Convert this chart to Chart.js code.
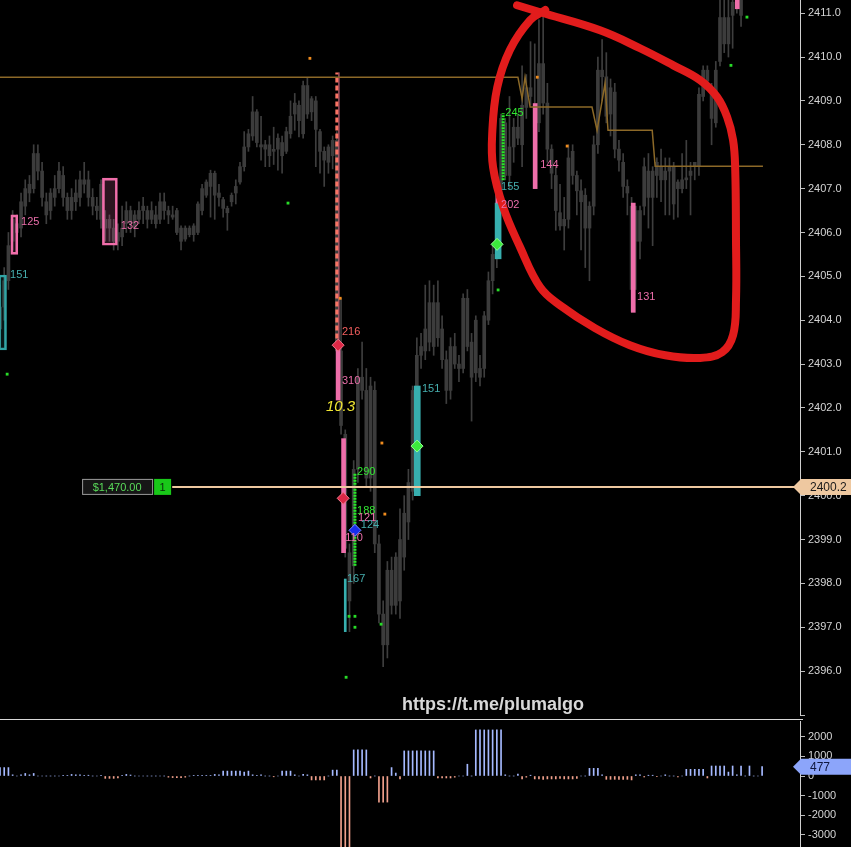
<!DOCTYPE html>
<html>
<head>
<meta charset="utf-8">
<title>Chart</title>
<script src="https://cdn.jsdelivr.net/npm/chart.js@4.4.1/dist/chart.umd.min.js"></script>
<style>
    html, body { margin: 0; padding: 0; background: #000; }
    #wrap { position: relative; width: 851px; height: 847px; overflow: hidden; background: #000; }
    #priceChart { position: absolute; left: 0; top: 0; }
    #sep { position: absolute; left: 0; top: 719px; width: 803px; height: 1px; background: #d8d8d8; }
    #deltaChart { position: absolute; left: 0; top: 721px; }
</style>
</head>
<body>
<div id="wrap">
    <canvas id="priceChart" width="851" height="720"></canvas>
    <div id="sep"></div>
    <canvas id="deltaChart" width="851" height="126"></canvas>
</div>
<script>
// candles (one per bar index)
const candleOpen = [
    2403.8, 2404.3, 2404.9, 2405.8, 2406.2, 2406.1, 2406.6, 2406.9, 2407.0, 2407.8,
    2407.4, 2406.7, 2406.5, 2406.8, 2407.0, 2407.3, 2406.8, 2406.5, 2406.7, 2406.8,
    2407.2, 2407.2, 2406.8, 2406.6, 2407.1, 2406.3, 2406.1, 2406.1, 2405.8, 2405.9,
    2406.2, 2406.5, 2406.1, 2406.3, 2406.5, 2406.5, 2406.3, 2406.4, 2406.3, 2406.7,
    2406.5, 2406.4, 2406.5, 2406.1, 2405.85, 2406.1, 2405.95, 2406.0, 2406.5, 2406.85,
    2407.05, 2407.35, 2406.9, 2406.75, 2406.55, 2406.7, 2406.9, 2407.15, 2407.5, 2407.95,
    2408.2, 2408.75, 2408.0, 2408.0, 2407.75, 2407.87, 2407.9, 2408.05, 2407.85, 2408.25,
    2408.7, 2408.9, 2408.25, 2409.35, 2408.75, 2409.0, 2408.3, 2407.85, 2407.6, 2407.75,
    2408.1, 2403.3, 2401.4, 2398.7, 2398.4, 2400.6, 2402.7, 2402.4, 2400.4, 2402.4,
    2398.9, 2397.3, 2396.6, 2398.3, 2397.5, 2397.6, 2398.6, 2399.4, 2400.1, 2402.4,
    2403.2, 2403.3, 2403.5, 2404.4, 2403.6, 2403.8, 2403.1, 2402.4, 2403.4, 2403.0,
    2402.9, 2404.5, 2403.5, 2402.8, 2402.9, 2402.9, 2404.0, 2404.9, 2405.4, 2407.0,
    2408.5, 2407.3, 2407.95, 2408.4, 2408.0, 2408.85, 2409.3, 2408.9, 2408.5, 2409.85,
    2408.95, 2407.9, 2407.3, 2406.45, 2406.15, 2406.3, 2407.85, 2407.3, 2406.95, 2406.85,
    2406.1, 2406.6, 2408.0, 2409.7, 2409.55, 2408.7, 2409.2, 2407.9, 2407.6, 2407.05,
    2406.6, 2405.8, 2406.5, 2406.6, 2407.4, 2406.8, 2407.3, 2407.5, 2407.2, 2407.5,
    2407.5, 2407.15, 2407.0, 2407.2, 2407.3, 2407.5, 2407.5, 2409.1, 2409.7, 2409.3,
    2408.5, 2409.9, 2410.9, 2410.3, 2410.95, 2411.2, 2411.3
];
const candleHigh = [
    2404.8, 2405.2, 2406.0, 2406.5, 2406.4, 2406.9, 2407.2, 2407.3, 2408.0, 2408.0,
    2407.6, 2406.9, 2407.0, 2407.3, 2407.6, 2407.5, 2406.9, 2407.0, 2407.2, 2407.4,
    2407.6, 2407.4, 2407.0, 2406.8, 2407.2, 2406.5, 2406.4, 2406.3, 2406.2, 2406.6,
    2406.7, 2406.6, 2406.5, 2406.7, 2406.8, 2406.6, 2406.7, 2406.6, 2406.9, 2406.9,
    2406.6, 2406.6, 2406.55, 2406.15, 2406.15, 2406.15, 2406.2, 2406.7, 2407.1, 2407.2,
    2407.42, 2407.4, 2407.1, 2406.8, 2406.6, 2406.9, 2407.2, 2407.6, 2408.3, 2408.35,
    2409.1, 2408.8, 2408.65, 2408.1, 2408.2, 2408.4, 2408.25, 2408.2, 2408.4, 2409.0,
    2409.17, 2409.0, 2409.45, 2409.52, 2409.1, 2409.1, 2408.35, 2407.95, 2408.0, 2408.2,
    2408.3, 2404.5, 2401.5, 2398.9, 2400.8, 2402.9, 2403.5, 2402.9, 2402.7, 2402.6,
    2399.1, 2397.6, 2398.5, 2398.6, 2398.7, 2399.7, 2400.0, 2400.6, 2402.5, 2403.6,
    2403.7, 2404.8, 2404.9, 2404.8, 2404.9, 2404.1, 2403.3, 2403.6, 2403.7, 2403.2,
    2404.6, 2404.7, 2403.7, 2404.1, 2403.2, 2404.2, 2405.1, 2405.7, 2407.1, 2408.7,
    2408.6, 2409.1, 2408.6, 2408.7, 2409.8, 2409.6, 2410.35, 2410.3, 2410.85, 2411.0,
    2409.4, 2408.0, 2407.5, 2407.1, 2406.8, 2408.0, 2408.0, 2407.4, 2407.2, 2407.0,
    2406.7, 2408.2, 2410.0, 2410.4, 2410.1, 2409.5, 2409.4, 2408.1, 2407.8, 2407.2,
    2406.8, 2406.6, 2406.6, 2407.7, 2407.8, 2407.5, 2407.7, 2407.9, 2407.7, 2407.7,
    2407.6, 2407.2, 2407.8, 2408.1, 2407.6, 2407.6, 2409.3, 2409.8, 2409.8, 2409.4,
    2409.9, 2411.3, 2411.3, 2411.3, 2411.3, 2411.4, 2411.4
];
const candleLow = [
    2403.4, 2404.0, 2404.7, 2405.6, 2405.7, 2405.9, 2406.4, 2406.7, 2406.9, 2407.2,
    2406.6, 2406.2, 2406.3, 2406.6, 2406.9, 2406.6, 2406.3, 2406.3, 2406.5, 2406.6,
    2406.9, 2406.6, 2406.4, 2406.3, 2406.1, 2405.8, 2405.8, 2405.6, 2405.6, 2405.7,
    2406.0, 2406.0, 2405.9, 2406.2, 2406.2, 2406.1, 2406.2, 2406.1, 2406.2, 2406.3,
    2406.2, 2406.3, 2405.95, 2405.6, 2405.8, 2405.9, 2405.8, 2405.95, 2406.4, 2406.8,
    2406.35, 2406.3, 2406.6, 2406.35, 2406.05, 2406.6, 2406.65, 2407.1, 2407.4, 2407.85,
    2408.1, 2407.95, 2407.65, 2407.5, 2407.5, 2407.55, 2407.42, 2407.35, 2407.8, 2408.15,
    2408.33, 2408.18, 2408.15, 2408.6, 2408.55, 2407.5, 2407.35, 2407.05, 2407.35, 2407.45,
    2403.1, 2401.4, 2398.6, 2396.9, 2398.0, 2400.3, 2402.2, 2400.2, 2400.1, 2398.7,
    2397.1, 2396.1, 2396.3, 2397.3, 2397.3, 2397.2, 2398.3, 2399.0, 2399.9, 2402.2,
    2402.9, 2403.1, 2403.3, 2403.2, 2403.4, 2402.9, 2402.1, 2402.2, 2402.9, 2402.6,
    2402.8, 2403.3, 2401.7, 2402.6, 2402.5, 2402.7, 2403.9, 2404.6, 2405.2, 2406.8,
    2407.2, 2407.0, 2407.6, 2408.0, 2407.5, 2408.6, 2408.9, 2407.0, 2408.3, 2408.7,
    2407.6, 2407.0, 2406.05, 2406.05, 2405.6, 2406.1, 2407.1, 2406.4, 2405.6, 2405.2,
    2404.9, 2406.4, 2407.8, 2409.0, 2408.5, 2408.2, 2407.7, 2407.4, 2406.8, 2406.4,
    2404.2, 2404.7, 2405.4, 2406.4, 2406.1, 2405.7, 2406.8, 2406.7, 2406.4, 2406.4,
    2406.3, 2406.35, 2406.9, 2407.0, 2406.4, 2407.2, 2407.3, 2409.0, 2409.3, 2408.0,
    2408.4, 2409.8, 2410.1, 2410.0, 2410.2, 2411.0, 2410.7
];
const candleClose = [
    2404.3, 2404.9, 2405.7, 2406.3, 2406.0, 2406.7, 2407.0, 2407.1, 2407.8, 2407.4,
    2406.8, 2406.4, 2406.9, 2407.0, 2407.4, 2406.8, 2406.5, 2406.8, 2406.9, 2407.2,
    2407.1, 2406.8, 2406.6, 2406.5, 2406.3, 2406.1, 2406.3, 2405.8, 2406.0, 2406.1,
    2406.5, 2406.2, 2406.4, 2406.5, 2406.6, 2406.3, 2406.5, 2406.2, 2406.7, 2406.5,
    2406.4, 2406.35, 2406.0, 2405.8, 2406.1, 2405.95, 2406.15, 2406.65, 2407.0, 2407.15,
    2407.35, 2406.85, 2406.8, 2406.55, 2406.45, 2406.85, 2407.05, 2407.5, 2407.95, 2408.25,
    2408.75, 2408.05, 2407.95, 2407.9, 2408.0, 2407.85, 2408.15, 2407.75, 2408.3, 2408.65,
    2408.95, 2408.55, 2409.35, 2408.7, 2409.05, 2408.35, 2407.85, 2407.65, 2407.95, 2408.1,
    2403.3, 2401.6, 2398.8, 2397.6, 2400.6, 2402.7, 2402.4, 2400.4, 2402.5, 2398.9,
    2397.3, 2396.6, 2398.3, 2397.5, 2398.6, 2399.0, 2399.6, 2400.3, 2402.4, 2403.2,
    2403.4, 2403.8, 2404.4, 2403.4, 2404.4, 2403.1, 2402.4, 2403.4, 2403.0, 2402.9,
    2404.5, 2403.4, 2402.7, 2404.0, 2402.7, 2404.1, 2404.9, 2405.5, 2407.0, 2408.6,
    2407.3, 2407.95, 2408.4, 2408.15, 2408.9, 2409.3, 2409.1, 2408.4, 2409.85, 2408.95,
    2407.9, 2407.35, 2406.5, 2406.15, 2406.3, 2407.7, 2407.3, 2406.95, 2406.7, 2406.1,
    2406.6, 2408.0, 2409.7, 2409.55, 2408.65, 2409.3, 2407.9, 2407.65, 2407.05, 2406.9,
    2404.7, 2406.5, 2405.8, 2407.5, 2406.8, 2407.4, 2407.6, 2407.2, 2407.4, 2407.4,
    2406.65, 2407.0, 2407.2, 2407.2, 2407.4, 2407.6, 2409.15, 2409.7, 2409.45, 2408.6,
    2409.7, 2410.9, 2410.3, 2410.9, 2411.25, 2411.3, 2410.95
];

// delta histogram (lower pane)
const deltaValues = [
    430, 430, 430, 60, 0, 60, 130, 60, 130, 0,
    0, 0, 0, 0, 0, 40, 30, 80, 60, 60,
    30, 40, 0, 0, 20, -120, -120, -120, -100, 40,
    80, 50, 0, 0, 0, 0, 0, 0, 0, 0,
    -60, -80, -80, -80, -60, 0, 30, 30, 30, 30,
    30, 80, 60, 250, 250, 250, 250, 250, 200, 250,
    60, 40, 60, 0, 0, -40, 0, 250, 250, 250,
    60, 0, 80, 60, -200, -200, -200, -200, 0, 300,
    300, -3700, -3700, -3700, 1330, 1330, 1330, 1330, -100, 0,
    -1330, -1330, -1330, 430, 150, -150, 1280, 1280, 1280, 1280,
    1280, 1280, 1280, 1280, -100, -100, -100, -100, -60, 0,
    0, 600, 0, 2350, 2350, 2350, 2350, 2350, 2350, 2350,
    60, 0, 0, 100, -150, -60, 40, -150, -150, -170,
    -150, -150, -150, -120, -150, -150, -150, -120, 0, 0,
    390, 390, 390, 60, -170, -170, -170, -170, -170, -170,
    -200, 60, 60, -50, 40, 40, -40, 0, 60, 0,
    0, -50, 0, 340, 340, 340, 340, 340, -100, 510,
    510, 510, 510, 200, 510, 60, 510, 0, 510, 0,
    0, 477
];

// axis ticks
const priceTicks = [2395, 2396, 2397, 2398, 2399, 2400, 2401, 2402, 2403, 2404, 2405, 2406, 2407, 2408, 2409, 2410, 2411];
const deltaTicks = [-3000, -2000, -1000, 0, 1000, 2000];

// signal boxes and bars: bar index, low, high
const tealBox = [{x: 0.6, lo: 2403.32, hi: 2405.03}];
const pinkBox = [{x: 3.4, lo: 2405.5, hi: 2406.4}];
const pinkBoxWide = [{x: 26.1, lo: 2405.71, hi: 2407.24}];
const pinkSignals = [
    {x: 80.3, lo: 2402.18, hi: 2403.4}, {x: 81.6, lo: 2398.7, hi: 2401.3},
    {x: 118.3, lo: 2406.67, hi: 2407.05}, {x: 127.1, lo: 2407.0, hi: 2408.94},
    {x: 150.4, lo: 2404.18, hi: 2406.67}, {x: 175.1, lo: 2411.1, hi: 2411.4}
];
const tealSignals = [{x: 99.1, lo: 2400.0, hi: 2402.5}, {x: 118.3, lo: 2405.4, hi: 2406.67}];
const tealThin = [{x: 82.0, lo: 2396.9, hi: 2398.1}];
const greenSignals = [{x: 84.3, lo: 2398.4, hi: 2400.5}, {x: 119.5, lo: 2407.19, hi: 2408.72}];
const dashedSignal = [{x: 80.0, lo: 2403.4, hi: 2409.65}];
const dashedCompanion = [{x: 80.5, lo: 2403.4, hi: 2409.65}];

const redDiamonds = [{x: 80.3, y: 2403.43}, {x: 81.5, y: 2399.94}];
const blueDiamonds = [{x: 84.3, y: 2399.21}];
const greenDiamonds = [{x: 99.05, y: 2401.13}, {x: 118.05, y: 2405.73}];
const orangeMarks = [
    {x: 73.6, y: 2409.97}, {x: 80.8, y: 2404.5}, {x: 90.7, y: 2401.2},
    {x: 91.4, y: 2399.58}, {x: 127.6, y: 2409.54}, {x: 134.7, y: 2407.97}
];
const greenMarks = [
    {x: 68.4, y: 2406.67}, {x: 1.7, y: 2402.77}, {x: 82.2, y: 2395.86}, {x: 82.9, y: 2397.25},
    {x: 84.3, y: 2397.25}, {x: 84.3, y: 2397.0}, {x: 90.5, y: 2397.07}, {x: 118.3, y: 2404.69},
    {x: 119.5, y: 2406.46}, {x: 173.6, y: 2409.81}, {x: 177.4, y: 2410.91}
];

const textLabels = [
    {x: 5.0, y: 2406.24, text: '125', kind: 'pink'},
    {x: 28.7, y: 2406.14, text: '132', kind: 'pink'},
    {x: 2.4, y: 2405.03, text: '151', kind: 'teal'},
    {x: 81.2, y: 2403.73, text: '216', kind: 'salmon'},
    {x: 81.2, y: 2402.61, text: '310', kind: 'pink'},
    {x: 77.4, y: 2402.02, text: '10.3', kind: 'yellow'},
    {x: 84.8, y: 2400.54, text: '290', kind: 'green'},
    {x: 84.8, y: 2399.65, text: '188', kind: 'green'},
    {x: 85.0, y: 2399.49, text: '121', kind: 'pink'},
    {x: 85.7, y: 2399.33, text: '124', kind: 'teal'},
    {x: 82.0, y: 2399.03, text: '110', kind: 'pink'},
    {x: 82.4, y: 2398.1, text: '167', kind: 'teal'},
    {x: 100.2, y: 2402.43, text: '151', kind: 'teal'},
    {x: 120.0, y: 2408.72, text: '245', kind: 'green'},
    {x: 119.0, y: 2407.03, text: '155', kind: 'teal'},
    {x: 119.0, y: 2406.62, text: '202', kind: 'pink'},
    {x: 128.3, y: 2407.54, text: '144', kind: 'pink'},
    {x: 151.3, y: 2404.53, text: '131', kind: 'pink'}
];

// stepped level line (brown)
const levelLine = [
    {x: 0, y: 2409.54}, {x: 123, y: 2409.54}, {x: 124, y: 2409.05}, {x: 124.7, y: 2409.54},
    {x: 125.9, y: 2408.86}, {x: 140.6, y: 2408.86}, {x: 141.8, y: 2408.33}, {x: 143.7, y: 2409.4},
    {x: 144.4, y: 2408.33}, {x: 154.9, y: 2408.33}, {x: 155.6, y: 2407.51}, {x: 181.2, y: 2407.51}
];

// hand drawn red circle
const circlePath = [
    {x: 122.8, y: 2411.18}, {x: 128.3, y: 2411.02}, {x: 142.5, y: 2410.61}, {x: 152.0, y: 2410.2},
    {x: 159.9, y: 2409.81}, {x: 166.3, y: 2409.47}, {x: 170.3, y: 2409.09}, {x: 172.7, y: 2408.63},
    {x: 174.1, y: 2408.11}, {x: 174.6, y: 2407.49}, {x: 174.8, y: 2405.83}, {x: 174.8, y: 2404.46},
    {x: 174.1, y: 2403.66}, {x: 171.5, y: 2403.27}, {x: 166.3, y: 2403.14}, {x: 158.0, y: 2403.2},
    {x: 149.6, y: 2403.43}, {x: 141.3, y: 2403.82}, {x: 133.0, y: 2404.34}, {x: 128.3, y: 2404.75},
    {x: 123.5, y: 2405.67}, {x: 119.5, y: 2406.58}, {x: 117.1, y: 2407.49}, {x: 116.9, y: 2408.26},
    {x: 118.1, y: 2409.31}, {x: 121.1, y: 2410.16}, {x: 125.9, y: 2410.84}, {x: 129.5, y: 2411.07}
];

// open position
const positionPrice = 2400.2;
const positionStart = 19.5;
const positionLineStart = 40.9;
const positionPnl = '$1,470.00';
const positionQty = '1';

const watermark = 'https://t.me/plumalgo';

const FONT = '"Liberation Sans", Arial, sans-serif';
const labelColors = {
    pink: 'rgb(235,110,170)',
    teal: 'rgb(70,175,175)',
    green: 'rgb(50,230,50)',
    salmon: 'rgb(245,95,95)',
    yellow: 'rgb(240,230,50)'
};

Chart.defaults.font.family = FONT;
Chart.defaults.color = '#d0d0d0';

const toBars = arr => arr.map(b => ({x: b.x, y: [b.lo, b.hi]}));
const toSegments = arr => arr.flatMap(b => [{x: b.x, y: b.lo}, {x: b.x, y: b.hi}, {x: b.x, y: null}]);

function drawTag(ctx, tipX, cy, text, fill, textColor) {
    const h = 16;
    ctx.fillStyle = fill;
    ctx.beginPath();
    ctx.moveTo(tipX, cy);
    ctx.lineTo(tipX + 8, cy - h / 2);
    ctx.lineTo(851, cy - h / 2);
    ctx.lineTo(851, cy + h / 2);
    ctx.lineTo(tipX + 8, cy + h / 2);
    ctx.closePath();
    ctx.fill();
    ctx.fillStyle = textColor;
    ctx.font = '12px ' + FONT;
    ctx.textAlign = 'left';
    ctx.textBaseline = 'middle';
    ctx.fillText(text, tipX + 17, cy + 1);
}

const priceOverlay = {
    id: 'priceOverlay',
    afterDatasetsDraw(chart) {
        const {ctx} = chart;
        const xs = chart.scales.x, ys = chart.scales.y;
        ctx.save();
        ctx.textAlign = 'left';
        ctx.textBaseline = 'middle';
        textLabels.forEach(function (l) {
            ctx.font = l.kind === 'yellow' ? 'italic 15px ' + FONT : '11px ' + FONT;
            ctx.fillStyle = labelColors[l.kind];
            ctx.fillText(l.text, xs.getPixelForValue(l.x), ys.getPixelForValue(l.y));
        });
        ctx.restore();
    },
    afterDraw(chart) {
        const {ctx} = chart;
        const xs = chart.scales.x, ys = chart.scales.y;
        const cy = ys.getPixelForValue(positionPrice);
        ctx.save();
        // position box
        const left = xs.getPixelForValue(positionStart);
        ctx.fillStyle = '#161616';
        ctx.fillRect(left, cy - 8, 70, 16);
        ctx.strokeStyle = '#9a9a9a';
        ctx.lineWidth = 1;
        ctx.strokeRect(left + 0.5, cy - 7.5, 70, 15);
        ctx.fillStyle = 'rgb(90,220,90)';
        ctx.font = '11px ' + FONT;
        ctx.textAlign = 'center';
        ctx.textBaseline = 'middle';
        ctx.fillText(positionPnl, left + 35, cy + 1);
        ctx.fillStyle = 'rgb(25,200,25)';
        ctx.fillRect(left + 72, cy - 8, 17, 16);
        ctx.fillStyle = '#0a2a0a';
        ctx.fillText(positionQty, left + 80.5, cy + 1);
        // price tag on axis
        drawTag(ctx, ys.left - 7, cy, positionPrice.toFixed(1), 'rgb(238,200,160)', '#1a1a1a');
        // watermark
        ctx.font = 'bold 18px ' + FONT;
        ctx.fillStyle = '#d8d8d8';
        ctx.textAlign = 'center';
        ctx.textBaseline = 'middle';
        ctx.fillText(watermark, 493, 705);
        ctx.restore();
    }
};

const deltaOverlay = {
    id: 'deltaOverlay',
    afterDraw(chart) {
        const {ctx} = chart;
        const ys = chart.scales.y;
        const last = deltaValues[deltaValues.length - 1];
        ctx.save();
        drawTag(ctx, ys.left - 7, ys.getPixelForValue(last), String(last), 'rgb(140,165,250)', '#101840');
        ctx.restore();
    }
};

function rightAxis(min, max, tickValues, fmt, hideValue) {
    return {
        position: 'right',
        min: min,
        max: max,
        border: {display: true, color: '#cfcfcf'},
        grid: {drawOnChartArea: false, drawTicks: true, tickLength: 5, color: '#bdbdbd'},
        ticks: {
            padding: 3,
            color: '#d4d4d4',
            font: {size: 11},
            callback: function (v) {
                return v === hideValue ? '' : fmt(v);
            }
        },
        afterBuildTicks: function (scale) {
            scale.ticks = tickValues.map(v => ({value: v}));
        },
        afterFit: function (scale) {
            scale.width = 51;
            scale.paddingTop = 0;
            scale.paddingBottom = 0;
        }
    };
}

const idx = candleOpen.map((_, i) => i);
const wicks = idx.map(i => ({x: i, y: [candleLow[i], candleHigh[i]]}));
const bodies = idx.map(i => ({x: i, y: [candleOpen[i], candleClose[i]]}));

new Chart(document.getElementById('priceChart'), {
    type: 'bar',
    data: {
        datasets: [
            {data: wicks, backgroundColor: '#3e3e3e', barThickness: 1, minBarLength: 1, grouped: false, order: 30},
            {data: bodies, backgroundColor: '#3c3c3c', barThickness: 3, minBarLength: 2, grouped: false, order: 29},
            {data: toBars(tealBox), backgroundColor: 'rgba(50,160,160,0.15)', borderColor: 'rgb(50,165,165)', borderWidth: 2, borderSkipped: false, barThickness: 8, grouped: false, order: 20},
            {data: toBars(pinkBox), backgroundColor: 'rgba(240,110,170,0.1)', borderColor: 'rgb(240,110,170)', borderWidth: 2, borderSkipped: false, barThickness: 7, grouped: false, order: 20},
            {data: toBars(pinkBoxWide), backgroundColor: 'rgba(240,110,170,0.18)', borderColor: 'rgb(240,110,170)', borderWidth: 2, borderSkipped: false, barThickness: 15, grouped: false, order: 20},
            {data: toBars(pinkSignals), backgroundColor: 'rgb(238,110,170)', barThickness: 4, grouped: false, order: 12},
            {data: toBars(tealSignals), backgroundColor: 'rgb(55,175,175)', barThickness: 6, grouped: false, order: 13},
            {data: toBars(tealThin), backgroundColor: 'rgb(55,175,175)', barThickness: 2, grouped: false, order: 13},
            {type: 'line', data: toSegments(greenSignals), borderColor: 'rgb(40,235,40)', borderWidth: 3, borderDash: [2, 1], pointRadius: 0, spanGaps: false, order: 11},
            {type: 'line', data: toSegments(dashedSignal), borderColor: 'rgb(250,115,100)', borderWidth: 3, borderDash: [5, 3], pointRadius: 0, spanGaps: false, order: 11},
            {type: 'line', data: toSegments(dashedCompanion), borderColor: 'rgb(240,120,150)', borderWidth: 1, pointRadius: 0, spanGaps: false, order: 11},
            {type: 'line', data: levelLine, borderColor: 'rgb(140,105,40)', borderWidth: 1.5, pointRadius: 0, tension: 0, order: 9},
            {type: 'line', data: [{x: positionLineStart, y: positionPrice}, {x: 190, y: positionPrice}], borderColor: 'rgb(238,200,160)', borderWidth: 2, pointRadius: 0, order: 8},
            {type: 'scatter', data: orangeMarks, pointStyle: 'rect', radius: 2, backgroundColor: 'rgb(240,140,30)', borderWidth: 0, order: 7},
            {type: 'scatter', data: greenMarks, pointStyle: 'rect', radius: 2, backgroundColor: 'rgb(40,220,40)', borderWidth: 0, order: 7},
            {type: 'scatter', data: redDiamonds, pointStyle: 'rectRot', radius: 6, backgroundColor: 'rgb(220,40,70)', borderColor: 'rgb(240,120,140)', borderWidth: 1, order: 5},
            {type: 'scatter', data: blueDiamonds, pointStyle: 'rectRot', radius: 6, backgroundColor: 'rgb(25,45,235)', borderColor: 'rgb(120,140,255)', borderWidth: 1, order: 5},
            {type: 'scatter', data: greenDiamonds, pointStyle: 'rectRot', radius: 6, backgroundColor: 'rgb(60,235,60)', borderColor: 'rgb(150,255,150)', borderWidth: 1, order: 5},
            {type: 'line', data: circlePath, borderColor: 'rgb(226,28,28)', borderWidth: 8, borderCapStyle: 'round', borderJoinStyle: 'round', pointRadius: 0, tension: 0.4, order: 1}
        ]
    },
    options: {
        responsive: false,
        animation: false,
        events: [],
        layout: {autoPadding: false, padding: {left: 0, top: 0, right: 0, bottom: 5}},
        plugins: {legend: {display: false}, tooltip: {enabled: false}},
        scales: {
            x: {type: 'linear', min: 0, max: 190, offset: false, display: false},
            y: rightAxis(2395.0, 2411.3, priceTicks, v => v.toFixed(1), 2395)
        }
    },
    plugins: [priceOverlay]
});

new Chart(document.getElementById('deltaChart'), {
    type: 'bar',
    data: {
        datasets: [{
            data: deltaValues.map((v, i) => ({x: i, y: v})),
            backgroundColor: ctx => (ctx.raw && ctx.raw.y < 0) ? 'rgb(240,160,140)' : 'rgb(165,185,255)',
            barThickness: 1,
            grouped: false
        }]
    },
    options: {
        responsive: false,
        animation: false,
        events: [],
        layout: {autoPadding: false, padding: 0},
        plugins: {legend: {display: false}, tooltip: {enabled: false}},
        scales: {
            x: {type: 'linear', min: 0, max: 190, offset: false, display: false},
            y: rightAxis(-3622, 2806, deltaTicks, v => String(v), null)
        }
    },
    plugins: [deltaOverlay]
});
</script>
</body>
</html>
